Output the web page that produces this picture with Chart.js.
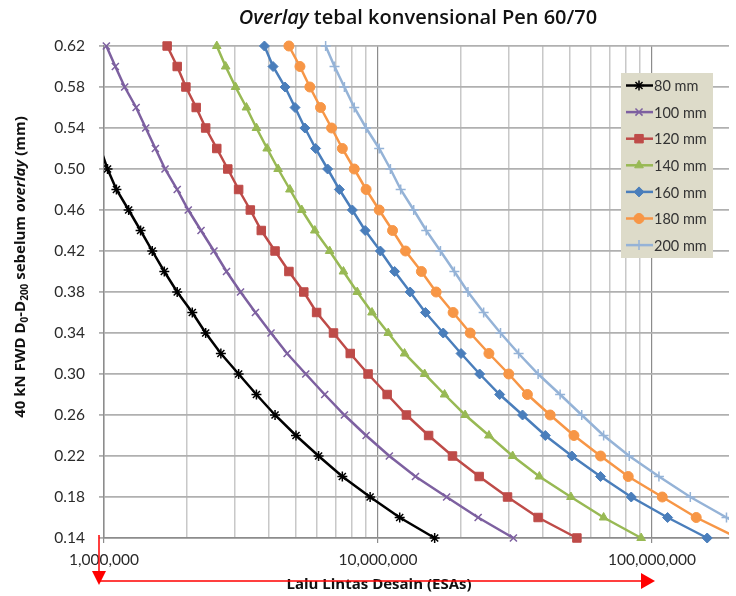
<!DOCTYPE html>
<html>
<head>
<meta charset="utf-8">
<script src="https://cdn.jsdelivr.net/npm/chart.js"></script>
<style>
  html, body { margin: 0; padding: 0; background: #fff; }
  canvas { display: block; }
</style>
</head>
<body>
<canvas id="chart1" width="736" height="596"></canvas>
<script>
// D0-D200 deflection levels (mm), same for every curve
const yLevels = [0.62, 0.60, 0.58, 0.56, 0.54, 0.52, 0.50, 0.48, 0.46, 0.44, 0.42, 0.40,
                 0.38, 0.36, 0.34, 0.32, 0.30, 0.28, 0.26, 0.24, 0.22, 0.20, 0.18, 0.16, 0.14];

// design traffic, million ESA (80 mm starts at 0.52)
const esa80  = [0.97, 1.03, 1.11, 1.23, 1.36, 1.50, 1.66, 1.85, 2.10, 2.35, 2.67, 3.10, 3.60, 4.21, 5.02, 6.07, 7.41, 9.36, 12.0, 16.1];
const esa100 = [1.02, 1.10, 1.19, 1.31, 1.42, 1.54, 1.67, 1.85, 2.03, 2.26, 2.52, 2.80, 3.15, 3.57, 4.07, 4.66, 5.45, 6.39, 7.54, 9.05, 11.0, 13.7, 17.8, 23.2, 31.2];
const esa120 = [1.70, 1.85, 1.99, 2.17, 2.35, 2.58, 2.83, 3.10, 3.42, 3.75, 4.21, 4.73, 5.36, 5.97, 6.88, 7.92, 9.20, 10.8, 12.7, 15.3, 18.7, 23.4, 29.7, 38.4, 53.2];
const esa140 = [2.58, 2.78, 3.02, 3.31, 3.60, 3.94, 4.32, 4.77, 5.27, 5.88, 6.66, 7.48, 8.40, 9.51, 10.9, 12.5, 14.8, 17.5, 20.8, 25.4, 31.0, 38.8, 50.6, 66.6, 91.3];
const esa160 = [3.85, 4.14, 4.58, 4.98, 5.41, 5.92, 6.55, 7.23, 8.06, 8.98, 10.2, 11.5, 13.1, 14.9, 17.3, 20.1, 23.5, 27.8, 33.7, 40.8, 51.0, 64.9, 84.0, 114, 159];
const esa180 = [4.73, 5.19, 5.64, 6.17, 6.77, 7.41, 8.19, 9.05, 10.1, 11.3, 12.6, 14.4, 16.3, 18.8, 21.7, 25.4, 30.0, 35.1, 42.5, 51.9, 64.9, 81.9, 109, 145, 206];
const esa200 = [6.44, 6.94, 7.54, 8.19, 9.05, 10.1, 11.1, 12.1, 13.5, 15.0, 16.9, 19.0, 21.3, 24.3, 28.0, 32.6, 38.4, 46.2, 55.4, 66.6, 82.6, 106, 138, 187, 258];

const seriesLabels = ['80 mm', '100 mm', '120 mm', '140 mm', '160 mm', '180 mm', '200 mm'];

// x axis ticks
const xGridTicks = [1e6, 2e6, 3e6, 4e6, 5e6, 6e6, 7e6, 8e6, 9e6,
                    1e7, 2e7, 3e7, 4e7, 5e7, 6e7, 7e7, 8e7, 9e7, 1e8];
const xLabelTicks = [1e6, 1e7, 1e8];

const FONT = 'Lato, "Open Sans", sans-serif';
const TFONT = '"Open Sans", Lato, sans-serif';

function pts(esa, levels) {
  return esa.map((v, i) => ({ x: v * 1e6, y: levels[i] }));
}

const styles = [
  { color: '#000000', fill: '#000000', shape: 'star', r: 5 },
  { color: '#7d60a0', fill: '#7d60a0', shape: 'crossRot', r: 5 },
  { color: '#be4b48', fill: '#be4b48', shape: 'rect', r: 6 },
  { color: '#98b954', fill: '#98b954', shape: 'triangle', r: 5 },
  { color: '#4a7ebb', fill: '#4a7ebb', shape: 'rectRot', r: 5 },
  { color: '#f79646', fill: '#f79646', shape: 'circle', r: 5 },
  { color: '#95b3d7', fill: '#95b3d7', shape: 'cross', r: 5 }
];

const allData = [
  pts(esa80, yLevels.slice(5)),
  pts(esa100, yLevels),
  pts(esa120, yLevels),
  pts(esa140, yLevels),
  pts(esa160, yLevels),
  pts(esa180, yLevels),
  pts(esa200, yLevels)
];

const datasets = allData.map((d, i) => ({
  label: seriesLabels[i],
  data: d,
  borderColor: styles[i].color,
  backgroundColor: styles[i].fill,
  borderWidth: 2.5,
  pointStyle: styles[i].shape,
  pointRadius: c => (c.raw && c.raw.x < 1e6) ? 0 : styles[i].r,
  pointBorderWidth: i === 0 || i === 1 || i === 6 ? 1.5 : 1,
  tension: 0,
  clip: { left: i === 0 ? 0 : 8, top: 10, right: 0, bottom: 10 }
}));

function drawRich(ctx, parts, cx, cy, size, family, weight) {
  // parts: [text, style]; style: n, i, sub
  const fontFor = s => {
    const sz = s === 'sub' ? Math.round(size * 0.65) : size;
    return (s === 'i' ? 'italic ' : '') + weight + ' ' + sz + 'px ' + family;
  };
  let total = 0;
  parts.forEach(p => { ctx.font = fontFor(p[1]); total += ctx.measureText(p[0]).width; });
  let x = cx - total / 2;
  ctx.textAlign = 'left';
  ctx.textBaseline = 'middle';
  parts.forEach(p => {
    ctx.font = fontFor(p[1]);
    const dy = p[1] === 'sub' ? size * 0.28 : 0;
    ctx.fillText(p[0], x, cy + dy);
    x += ctx.measureText(p[0]).width;
  });
}

const extras = {
  id: 'extras',
  afterDraw(chart) {
    const ctx = chart.ctx;
    const xs = chart.scales.x;
    const area = chart.chartArea;
    ctx.save();
    ctx.fillStyle = '#111111';

    // title
    drawRich(ctx, [['Overlay', 'i'], [' tebal konvensional Pen 60/70', 'n']], 418, 18, 20, TFONT, '600');

    // x axis title
    drawRich(ctx, [['Lalu Lintas Desain (ESAs)', 'n']], 379, 585, 15, TFONT, 'bold');

    // y axis title (rotated)
    ctx.save();
    ctx.translate(21, 267);
    ctx.rotate(-Math.PI / 2);
    drawRich(ctx, [['40 kN FWD D', 'n'], ['0', 'sub'], ['-D', 'n'], ['200', 'sub'],
                   [' sebelum ', 'n'], ['overlay', 'i'], [' (mm)', 'n']], 0, 0, 15, TFONT, 'bold');
    ctx.restore();

    // legend
    const lx = 621, ly = 73, lw = 92, lh = 185;
    ctx.fillStyle = '#dddbc9';
    ctx.fillRect(lx, ly, lw, lh);
    chart.data.datasets.forEach((ds, i) => {
      const y = ly + 12.5 + i * 26.6;
      ctx.strokeStyle = ds.borderColor;
      ctx.lineWidth = 2.5;
      ctx.beginPath();
      ctx.moveTo(lx + 5, y);
      ctx.lineTo(lx + 32, y);
      ctx.stroke();
      ctx.fillStyle = ds.backgroundColor;
      ctx.lineWidth = ds.pointBorderWidth;
      if (Chart.helpers && Chart.helpers.drawPoint) {
        Chart.helpers.drawPoint(ctx, { pointStyle: ds.pointStyle, radius: styles[i].r, borderWidth: ds.pointBorderWidth, rotation: 0 }, lx + 18, y);
      }
      ctx.fillStyle = '#333333';
      ctx.font = '14.5px ' + FONT;
      ctx.textAlign = 'left';
      ctx.textBaseline = 'middle';
      ctx.fillText(ds.label, lx + 33, y + 1);
    });

    // red arrows
    const ax = xs.getPixelForValue(1e6) - 5;
    const tip = xs.getPixelForValue(1e8) + 3;
    ctx.strokeStyle = '#ff0000';
    ctx.fillStyle = '#ff0000';
    ctx.lineWidth = 1.5;
    ctx.beginPath();
    ctx.moveTo(ax, area.bottom - 3);
    ctx.lineTo(ax, 578);
    ctx.moveTo(ax, 581);
    ctx.lineTo(tip - 12, 581);
    ctx.stroke();
    ctx.beginPath();
    ctx.moveTo(ax - 7, 571); ctx.lineTo(ax + 7, 571); ctx.lineTo(ax, 585); ctx.closePath();
    ctx.fill();
    ctx.beginPath();
    ctx.moveTo(tip - 14, 573); ctx.lineTo(tip - 14, 589); ctx.lineTo(tip, 581); ctx.closePath();
    ctx.fill();
    ctx.restore();
  }
};

const ctx = document.getElementById('chart1').getContext('2d');
const myChart = new Chart(ctx, {
  type: 'line',
  data: { datasets: datasets },
  plugins: [extras],
  options: {
    responsive: false,
    animation: false,
    layout: { padding: { top: 46, left: 0, right: 0, bottom: 0 } },
    plugins: {
      legend: { display: false },
      title: { display: false },
      tooltip: { enabled: false }
    },
    scales: {
      x: {
        type: 'logarithmic',
        min: 1e6,
        max: 1.91e8,
        afterBuildTicks: s => {
          s.ticks = xGridTicks.map(v => ({ value: v, major: xLabelTicks.includes(v) }));
        },
        afterFit: s => { s.height = 58; },
        ticks: {
          autoSkip: false,
          maxRotation: 0,
          padding: 8,
          color: '#2a2a2a',
          font: { family: FONT, size: 15.5 },
          callback: v => xLabelTicks.includes(v) ? v.toLocaleString('en-US') : ''
        },
        grid: {
          color: c => (c.tick && xLabelTicks.includes(c.tick.value)) ? '#8c8c8c' : '#c8c8c8',
          lineWidth: c => (c.tick && xLabelTicks.includes(c.tick.value)) ? 1.2 : 1.5,
          tickColor: c => (c.tick && xLabelTicks.includes(c.tick.value)) ? '#8c8c8c' : 'rgba(0,0,0,0)',
          tickLength: 5
        },
        border: { color: '#8c8c8c', width: 1.5 }
      },
      y: {
        type: 'linear',
        min: 0.14,
        max: 0.62,
        afterFit: s => { s.width = 104; },
        ticks: {
          stepSize: 0.04,
          padding: 14,
          color: '#2a2a2a',
          font: { family: FONT, size: 15.5 },
          callback: v => v.toFixed(2)
        },
        grid: { color: '#b0b0b0', lineWidth: 1.8, tickLength: 5 },
        border: { color: '#8c8c8c', width: 1.5 }
      }
    }
  }
});
</script>
</body>
</html>
